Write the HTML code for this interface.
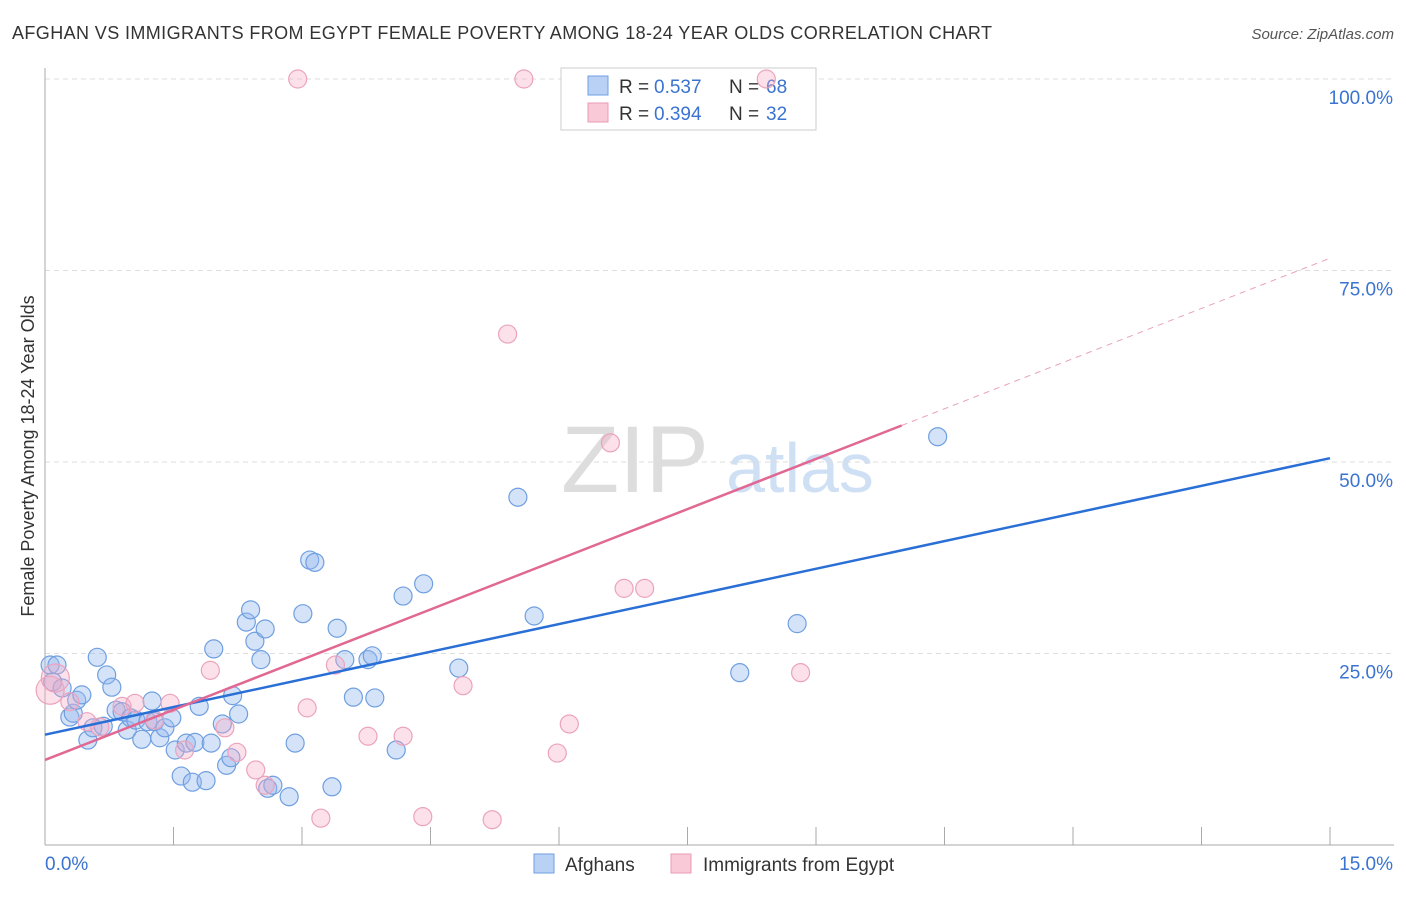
<!DOCTYPE html>
<html><head><meta charset="utf-8"><style>
body{margin:0;background:#fff;font-family:"Liberation Sans",sans-serif}
svg text{font-family:"Liberation Sans",sans-serif}
</style></head><body>
<svg id="c" width="1406" height="892">
<text x="12" y="39" font-size="18" fill="#333" textLength="980" lengthAdjust="spacing">AFGHAN VS IMMIGRANTS FROM EGYPT FEMALE POVERTY AMONG 18-24 YEAR OLDS CORRELATION CHART</text>
<text x="1394" y="39" font-size="15" fill="#555" font-style="italic" text-anchor="end">Source: ZipAtlas.com</text>
<text x="635" y="492" font-size="95" fill="#ddd" font-family="Liberation Serif" text-anchor="middle">ZIP</text>
<text x="800" y="492" font-size="70" fill="#cfe0f5" text-anchor="middle">atlas</text>
<text transform="translate(34,456) rotate(-90)" font-size="18" fill="#333" text-anchor="middle">Female Poverty Among 18-24 Year Olds</text>
<g id="grid"></g>
<g>
<rect x="561" y="68" width="255" height="62" fill="#fff" stroke="#ccc"/>
<rect x="588" y="76" width="20" height="19" fill="#b9d1f5" stroke="#6f9fe0"/>
<rect x="588" y="103" width="20" height="19" fill="#f9c9d8" stroke="#e99ab5"/>
<text x="619" y="93" font-size="19" fill="#333">R =</text>
<text x="654" y="93" font-size="19" fill="#3a73d0">0.537</text>
<text x="729" y="93" font-size="19" fill="#333">N =</text>
<text x="766" y="93" font-size="19" fill="#3a73d0">68</text>
<text x="619" y="120" font-size="19" fill="#333">R =</text>
<text x="654" y="120" font-size="19" fill="#3a73d0">0.394</text>
<text x="729" y="120" font-size="19" fill="#333">N =</text>
<text x="766" y="120" font-size="19" fill="#3a73d0">32</text>
</g>
<g id="pts"></g><g id="lines"></g>
<g>
<rect x="534" y="854" width="20" height="19" fill="#b9d1f5" stroke="#6f9fe0"/>
<text x="565" y="871" font-size="19" fill="#333">Afghans</text>
<rect x="671" y="854" width="20" height="19" fill="#f9c9d8" stroke="#e99ab5"/>
<text x="703" y="871" font-size="19" fill="#333">Immigrants from Egypt</text>
</g>
</svg>
<script>
const yTicks=[25,50,75,100];
const yTickLabels=["25.0%","50.0%","75.0%","100.0%"];
const xTicks=[0,1.5,3,4.5,6,7.5,9,10.5,12,13.5,15];
const blueX=[0.06,0.14,0.09,0.20,0.29,0.33,0.37,0.43,0.50,0.56,0.61,0.68,0.72,0.78,0.83,0.90,0.96,1.00,1.06,1.13,1.20,1.25,1.28,1.34,1.40,1.48,1.52,1.59,1.65,1.72,1.75,1.80,1.88,1.94,1.97,2.07,2.12,2.17,2.19,2.26,2.35,2.40,2.45,2.52,2.57,2.60,2.66,2.85,2.92,3.01,3.09,3.15,3.35,3.41,3.50,3.60,3.77,3.82,3.85,4.10,4.18,4.42,4.83,5.52,5.71,8.11,8.78,10.42];
const blueY=[23.5,23.5,21.3,20.5,16.7,17.2,18.9,19.6,13.7,15.3,24.5,15.5,22.2,20.6,17.6,17.4,15.0,16.6,16.3,13.8,16.1,18.8,16.1,14.0,15.3,16.6,12.4,9.0,13.3,8.2,13.4,18.1,8.4,13.3,25.6,15.8,10.4,11.4,19.5,17.1,29.1,30.7,26.6,24.2,28.2,7.4,7.8,6.3,13.3,30.2,37.2,36.9,7.6,28.3,24.2,19.3,24.2,24.7,19.2,12.4,32.5,34.1,23.1,45.4,29.9,22.5,28.9,53.3];
const pinkX=[0.06,0.12,0.29,0.49,0.64,0.90,1.05,1.28,1.46,1.63,1.93,2.10,2.24,2.46,2.57,2.95,3.06,3.22,3.39,3.77,4.18,4.41,4.88,5.22,5.40,5.59,5.98,6.12,6.60,6.76,7.00,8.42,8.82];
const pinkY=[20.2,21.8,18.7,16.1,15.4,18.1,18.5,16.3,18.5,12.4,22.8,15.3,12.1,9.8,7.8,100,17.9,3.5,23.5,14.2,14.2,3.7,20.8,3.3,66.7,100,12.0,15.8,52.5,33.5,33.5,100,22.5];
const blueLine=[14.4,50.5];
const pinkLine=[11.1,76.6]; const pinkSolidEnd=10.0;
const X=v=>45+v*(1285/15), Y=v=>845-v*(766/100);
const NS="http://www.w3.org/2000/svg";
function mk(t,a,p){const e=document.createElementNS(NS,t);for(const k in a)e.setAttribute(k,a[k]);p.appendChild(e);return e;}
const g=document.getElementById('grid');
yTicks.forEach((t,i)=>{
 const l=mk('line',{x1:45,x2:1394,y1:Y(t),y2:Y(t),stroke:'#ddd','stroke-dasharray':'5,4'},g);
 
 
 const tx=mk('text',{x:1393,y:Y(t)+25,'font-size':19,fill:'#3a73d0','text-anchor':'end'},g);
 tx.textContent=yTickLabels[i];
 
 
});
mk('line',{x1:45,x2:45,y1:68,y2:845,stroke:'#aaa'},g);
mk('line',{x1:45,x2:1394,y1:845,y2:845,stroke:'#aaa'},g);
xTicks.forEach(t=>{const l=mk('line',{x1:X(t),x2:X(t),y1:827,y2:845,stroke:'#aaa'},g);
 
 });
let t0=mk('text',{x:45,y:870,'font-size':19,fill:'#3a73d0'},g);t0.textContent='0.0%';

let t1=mk('text',{x:1393,y:870,'font-size':19,fill:'#3a73d0','text-anchor':'end'},g);t1.textContent='15.0%';

const p=document.getElementById('pts');
blueX.forEach((x,i)=>{const c=mk('circle',{cx:X(x),cy:Y(blueY[i]),r:9,fill:'rgba(150,185,240,0.4)',stroke:'#6f9fe0','stroke-width':1.2},p);
 
 });
pinkX.forEach((x,i)=>{const c=mk('circle',{cx:X(x),cy:Y(pinkY[i]),r:i<2?14:9,fill:'rgba(245,170,195,0.35)',stroke:'#eba3bc','stroke-width':1.2},p);
 
 });
const L=document.getElementById('lines');
const pl=x=>pinkLine[0]+(pinkLine[1]-pinkLine[0])*x/15;
let b=mk('line',{x1:X(0),y1:Y(blueLine[0]),x2:X(15),y2:Y(blueLine[1]),stroke:'#2a6fd6','stroke-width':2.5},L);


let q=mk('line',{x1:X(0),y1:Y(pl(0)),x2:X(pinkSolidEnd),y2:Y(pl(pinkSolidEnd)),stroke:'#e06892','stroke-width':2.5},L);


let d=mk('line',{x1:X(pinkSolidEnd),y1:Y(pl(pinkSolidEnd)),x2:X(15),y2:Y(pl(15)),stroke:'#eaa0b8','stroke-width':1,'stroke-dasharray':'6,5'},L);


</script>
</body></html>
